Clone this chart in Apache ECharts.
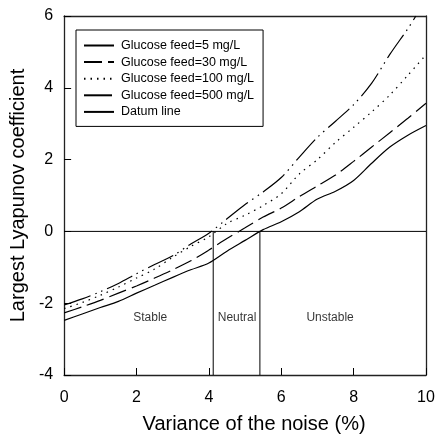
<!DOCTYPE html>
<html>
<head>
<meta charset="utf-8">
<script src="https://cdn.jsdelivr.net/npm/echarts@6/dist/echarts.min.js"></script>
<style>
  html, body { margin: 0; padding: 0; background: #fff; }
  #chart { width: 438px; height: 439px; }
</style>
</head>
<body>
<div id="chart"></div>
<script>
// noise variance (%) for the curves
const xs = [0, 0.5, 1, 1.5, 2, 2.5, 3, 3.5, 4, 4.5, 5, 5.5, 6, 6.5, 7, 7.5, 8, 8.5, 9, 9.5, 10];
const feed5 = [-2.48, -2.3, -2.12, -1.95, -1.72, -1.5, -1.28, -1.07, -0.88, -0.55, -0.25, 0.05, 0.27, 0.55, 0.9, 1.12, 1.42, 1.9, 2.35, 2.68, 2.95];
const feed30 = [-2.27, -2.1, -1.92, -1.72, -1.52, -1.3, -1.07, -0.82, -0.52, -0.2, 0.1, 0.4, 0.65, 0.97, 1.27, 1.57, 1.95, 2.35, 2.75, 3.15, 3.57];
const feed100 = [-2.15, -1.98, -1.78, -1.55, -1.3, -1.05, -0.72, -0.42, -0.15, 0.22, 0.45, 0.72, 1.05, 1.6, 2.0, 2.48, 2.9, 3.33, 3.8, 4.35, 4.92];
// last point of this one stops where it leaves the frame
const xs500 = [0, 0.5, 1, 1.5, 2, 2.5, 3, 3.5, 4, 4.5, 5, 5.5, 6, 6.5, 7, 7.5, 8, 8.5, 9, 9.5, 9.72];
const feed500 = [-2.05, -1.88, -1.68, -1.45, -1.18, -0.92, -0.68, -0.35, -0.05, 0.35, 0.75, 1.1, 1.5, 2.07, 2.62, 3.07, 3.53, 4.13, 4.93, 5.65, 6.0];

const datumX = [0, 10];
const datumY = [0, 0];
const boundaries = [4.12, 5.41];
const zoneNames = ["Stable", "Neutral", "Unstable"];
const zoneX = [2.38, 4.78, 7.35];
const zoneY = -2.4;

const FONT = "Liberation Sans, Arial, sans-serif";

function pairs(x, y) {
  return x.map((v, i) => [v, y[i]]);
}

function curve(name, x, y, dash) {
  return {
    name: name,
    type: "line",
    data: pairs(x, y),
    smooth: 0.3,
    symbol: "none",
    lineStyle: { color: "#000", width: 1.2, type: dash, cap: "butt" },
    itemStyle: { color: "#000" }
  };
}

const chart = echarts.init(document.getElementById("chart"));

const series = [
  curve("Glucose feed=5 mg/L", xs, feed5, "solid"),
  curve("Glucose feed=30 mg/L", xs, feed30, [18, 6]),
  curve("Glucose feed=100 mg/L", xs, feed100, [1.5, 5]),
  curve("Glucose feed=500 mg/L", xs500, feed500, [28, 5, 1.5, 5, 1.5, 5]),
  {
    name: "Datum line",
    type: "line",
    data: pairs(datumX, datumY),
    symbol: "none",
    lineStyle: { color: "#000", width: 1 },
    itemStyle: { color: "#000" }
  }
];

boundaries.forEach(b => {
  series.push({
    name: "boundary",
    type: "line",
    data: [[b, -4], [b, 0]],
    symbol: "none",
    silent: true,
    lineStyle: { color: "#000", width: 1 }
  });
});

series.push({
  name: "zones",
  type: "scatter",
  data: zoneNames.map((n, i) => ({ name: n, value: [zoneX[i], zoneY] })),
  symbolSize: 1,
  itemStyle: { color: "rgba(0,0,0,0)" },
  label: {
    show: true,
    position: "inside",
    formatter: "{b}",
    color: "#000",
    fontSize: 12,
    fontFamily: FONT
  }
});

const option = {
  animation: false,
  backgroundColor: "#fff",
  grid: { left: 64, right: 12, top: 16, bottom: 63 },
  legend: {
    data: ["Glucose feed=5 mg/L", "Glucose feed=30 mg/L", "Glucose feed=100 mg/L", "Glucose feed=500 mg/L", "Datum line"],
    orient: "vertical",
    left: 76,
    top: 30,
    padding: [9, 9, 8, 7],
    itemWidth: 30,
    itemHeight: 12,
    itemGap: 3.6,
    itemStyle: { opacity: 0 },
    borderColor: "#000",
    borderWidth: 1,
    backgroundColor: "#fff",
    textStyle: { color: "#000", fontSize: 12.5, fontFamily: FONT, padding: [0, 0, 0, 2] }
  },
  xAxis: [
    {
      type: "value",
      min: 0,
      max: 10,
      interval: 2,
      name: "Variance of the noise (%)",
      nameLocation: "middle",
      nameGap: 39,
      nameTextStyle: { color: "#000", fontSize: 20, fontFamily: FONT, padding: [0, 0, 0, 18] },
      axisLine: { onZero: false, lineStyle: { color: "#222", width: 1.3 } },
      axisTick: { inside: true, length: 7, lineStyle: { color: "#000" } },
      axisLabel: { color: "#000", fontSize: 16, fontFamily: FONT, margin: 15 },
      splitLine: { show: false }
    },
    {
      type: "value",
      position: "top",
      min: 0,
      max: 10,
      interval: 2,
      axisLine: { onZero: false, lineStyle: { color: "#222", width: 1.3 } },
      axisTick: { show: false },
      axisLabel: { show: false },
      splitLine: { show: false }
    }
  ],
  yAxis: [
    {
      type: "value",
      min: -4,
      max: 6,
      interval: 2,
      name: "Largest Lyapunov coefficient",
      nameLocation: "middle",
      nameGap: 34,
      nameTextStyle: { color: "#000", fontSize: 20, fontFamily: FONT },
      axisLine: { onZero: false, lineStyle: { color: "#222", width: 1.3 } },
      axisTick: { inside: true, length: 7, lineStyle: { color: "#000" } },
      axisLabel: { color: "#000", fontSize: 16, fontFamily: FONT, margin: 11 },
      splitLine: { show: false }
    },
    {
      type: "value",
      position: "right",
      min: -4,
      max: 6,
      interval: 2,
      axisLine: { onZero: false, lineStyle: { color: "#222", width: 1.3 } },
      axisTick: { show: false },
      axisLabel: { show: false },
      splitLine: { show: false }
    }
  ],
  series: series
};

chart.setOption(option);
</script>
</body>
</html>
